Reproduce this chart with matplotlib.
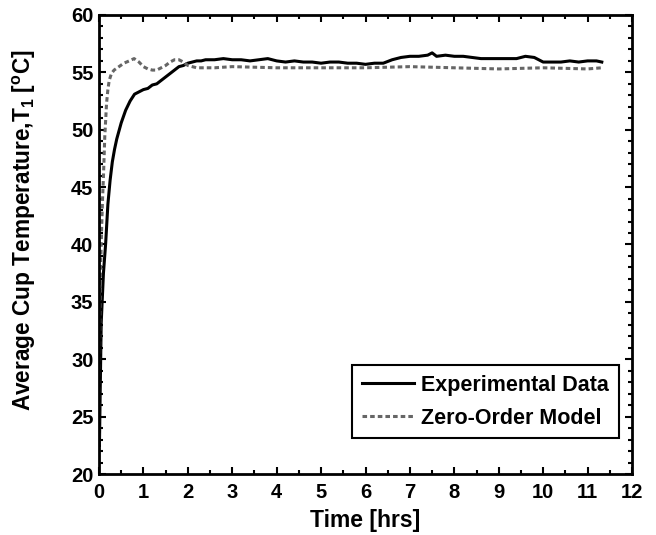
import matplotlib
matplotlib.use("Agg")
import matplotlib.pyplot as plt

plt.rcParams['font.family'] = ['Liberation Sans', 'DejaVu Sans']
plt.rcParams['font.weight'] = 'bold'
plt.rcParams['mathtext.fontset'] = 'custom'
plt.rcParams['mathtext.rm'] = 'Liberation Sans:bold'
plt.rcParams['mathtext.bf'] = 'Liberation Sans:bold'
plt.rcParams['mathtext.it'] = 'Liberation Sans:bold'

exp_t = [0.01, 0.03, 0.05, 0.1, 0.15, 0.2, 0.25, 0.3, 0.35, 0.4, 0.5, 0.6, 0.7, 0.8, 0.9,
         1.0, 1.1, 1.2, 1.3, 1.4, 1.5, 1.6, 1.7, 1.8, 1.9, 2.0, 2.1, 2.2, 2.3, 2.4, 2.5,
         2.6, 2.8, 3.0, 3.2, 3.4, 3.6, 3.8, 4.0, 4.2, 4.4, 4.6, 4.8, 5.0, 5.2, 5.4, 5.6,
         5.8, 6.0, 6.2, 6.4, 6.6, 6.8, 7.0, 7.2, 7.4, 7.5, 7.6, 7.8, 8.0, 8.2, 8.4, 8.6,
         8.8, 9.0, 9.2, 9.4, 9.6, 9.8, 10.0, 10.2, 10.4, 10.6, 10.8, 11.0, 11.2, 11.32]
exp_T = [22.5, 28.0, 33.2, 37.5, 40.1, 43.5, 45.6, 47.2, 48.3, 49.2, 50.6, 51.7, 52.5, 53.1, 53.3,
         53.5, 53.6, 53.9, 54.0, 54.3, 54.6, 54.9, 55.2, 55.5, 55.6, 55.8, 55.9, 56.0, 56.0, 56.1, 56.1,
         56.1, 56.2, 56.1, 56.1, 56.0, 56.1, 56.2, 56.0, 55.9, 56.0, 55.9, 55.9, 55.8, 55.9, 55.9, 55.8,
         55.8, 55.7, 55.8, 55.8, 56.1, 56.3, 56.4, 56.4, 56.5, 56.7, 56.4, 56.5, 56.4, 56.4, 56.3, 56.2,
         56.2, 56.2, 56.2, 56.2, 56.4, 56.3, 55.9, 55.9, 55.9, 56.0, 55.9, 56.0, 56.0, 55.9]

mod_t = [0.005, 0.01, 0.02, 0.04, 0.06, 0.08, 0.1, 0.13, 0.17, 0.2, 0.23, 0.28, 0.34, 0.45, 0.56,
         0.68, 0.79, 0.9, 1.0, 1.1, 1.2, 1.3, 1.4, 1.5, 1.6, 1.7, 1.8, 1.9, 2.0, 2.1, 2.2,
         2.4, 2.6, 3.0, 4.0, 5.0, 6.0, 7.0, 8.0, 9.0, 10.0, 11.0, 11.32]
mod_T = [22.5, 29.0, 34.3, 38.5, 41.5, 44.0, 45.9, 49.4, 52.3, 53.5, 54.3, 54.9, 55.2, 55.5, 55.8,
         56.0, 56.2, 55.9, 55.5, 55.3, 55.2, 55.2, 55.4, 55.6, 55.9, 56.1, 56.1, 55.9, 55.6, 55.5, 55.4,
         55.4, 55.4, 55.5, 55.4, 55.4, 55.4, 55.5, 55.4, 55.3, 55.4, 55.3, 55.4]

fig = plt.figure(figsize=(6.56, 5.35), dpi=100)
ax = fig.add_axes([99/656, 61/535, 533/656, 459/535])

ax.plot(exp_t, exp_T, color='black', lw=2.2, label='Experimental Data')
ax.plot(mod_t, mod_T, color='#666666', lw=2.2, linestyle=(0, (1.5, 1)), label='Zero-Order Model')

ax.set_xlim(0, 12)
ax.set_ylim(20, 60)
ax.set_xticks(range(0, 13))
ax.set_yticks(range(20, 61, 5))
ax.set_xticks([i + 0.5 for i in range(12)], minor=True)
ax.set_yticks([v for v in range(20, 61) if v % 5 != 0], minor=True)
ax.tick_params(which='both', direction='in', top=True, right=True, width=1.5, labelsize=14.5)
ax.tick_params(axis='x', which='major', pad=6.5)
ax.tick_params(axis='y', which='major', pad=4)
ax.tick_params(which='major', length=5)
ax.tick_params(which='minor', length=3)
for lab in ax.get_xticklabels() + ax.get_yticklabels():
    lab.set_fontweight('bold')
for s in ax.spines.values():
    s.set_linewidth(2)

ax.set_xlabel('Time [hrs]', fontsize=16.5, fontweight='bold', labelpad=5)
ax.set_ylabel(r'Average Cup Temperature,T$_\mathbf{1}$ [$^\mathbf{o}$C]', fontsize=16.3, fontweight='bold')
ax.yaxis.set_label_coords(-0.114, 0.532)

leg = ax.legend(loc='lower right', bbox_to_anchor=(0.975, 0.078), borderaxespad=0,
                fancybox=False, edgecolor='black', framealpha=1,
                prop={'weight': 'bold', 'size': 15.5}, handlelength=2.4, handletextpad=0.35,
                borderpad=0.45, labelspacing=0.55)
leg.get_frame().set_linewidth(1.5)

fig.savefig('out.png', dpi=100)
